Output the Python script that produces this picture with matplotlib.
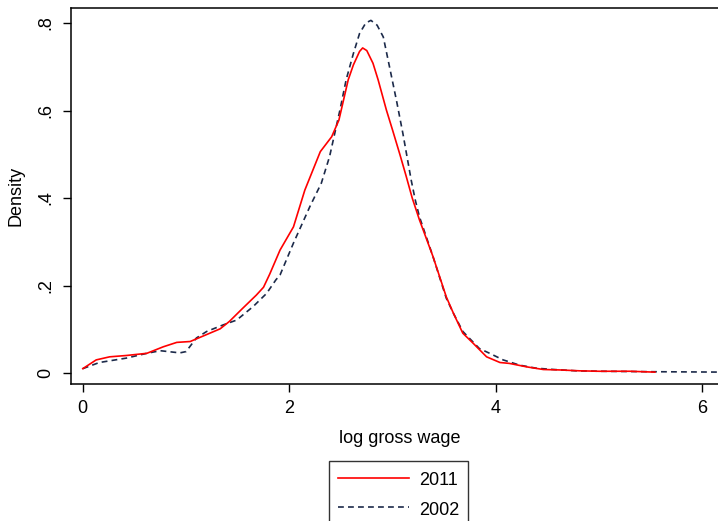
import matplotlib
matplotlib.use("Agg")
import matplotlib.pyplot as plt

plt.rcParams['font.family'] = ['Liberation Sans', 'DejaVu Sans']

# 2011 density (log gross wage)
x_2011 = [0.00, 0.13, 0.26, 0.42, 0.62, 0.78, 0.91, 1.04, 1.13, 1.33, 1.42, 1.54,
          1.68, 1.75, 1.81, 1.91, 2.04, 2.15, 2.30, 2.41, 2.48, 2.57, 2.62, 2.68,
          2.71, 2.75, 2.81, 2.86, 2.94, 3.00, 3.07, 3.13, 3.19, 3.26, 3.39, 3.52,
          3.59, 3.68, 3.78, 3.91, 4.04, 4.13, 4.30, 4.46, 4.62, 4.81, 5.00, 5.30, 5.54]
y_2011 = [0.010, 0.030, 0.037, 0.040, 0.045, 0.060, 0.070, 0.072, 0.081, 0.101, 0.118, 0.146,
          0.178, 0.196, 0.226, 0.281, 0.334, 0.418, 0.506, 0.540, 0.578, 0.670, 0.704, 0.735,
          0.743, 0.737, 0.708, 0.670, 0.601, 0.555, 0.500, 0.451, 0.400, 0.350, 0.267, 0.174,
          0.136, 0.091, 0.068, 0.037, 0.024, 0.022, 0.014, 0.008, 0.007, 0.005, 0.004, 0.004, 0.002]

# 2002 density (log gross wage)
x_2002 = [0.00, 0.16, 0.42, 0.62, 0.75, 0.94, 1.00, 1.10, 1.20, 1.36, 1.49, 1.65,
          1.78, 1.87, 1.91, 2.04, 2.20, 2.31, 2.39, 2.44, 2.49, 2.55, 2.62, 2.68,
          2.74, 2.79, 2.85, 2.91, 2.97, 3.04, 3.10, 3.18, 3.22, 3.26, 3.39, 3.52,
          3.59, 3.68, 3.84, 3.94, 4.07, 4.23, 4.39, 4.56, 4.78, 5.00, 5.50, 6.25]
y_2002 = [0.010, 0.024, 0.034, 0.045, 0.051, 0.046, 0.049, 0.080, 0.095, 0.110, 0.121, 0.152,
          0.182, 0.213, 0.224, 0.297, 0.381, 0.434, 0.495, 0.548, 0.601, 0.670, 0.730, 0.776,
          0.800, 0.806, 0.795, 0.768, 0.700, 0.620, 0.547, 0.441, 0.395, 0.357, 0.267, 0.171,
          0.136, 0.095, 0.056, 0.045, 0.030, 0.018, 0.011, 0.008, 0.005, 0.004, 0.003, 0.002]

x_ticks = [0, 2, 4, 6]
y_ticks = [0, 0.2, 0.4, 0.6, 0.8]
y_ticklabels = ["0", ".2", ".4", ".6", ".8"]

W, H = 718, 521
fig = plt.figure(figsize=(W / 100, H / 100), dpi=100)
left, bottom, top = 71 / W, 1 - 384.3 / H, 1 - 8.3 / H
right = 728 / W
ax = fig.add_axes([left, bottom, right - left, top - bottom])

ax.plot(x_2011, y_2011, color="#ff0000", lw=1.2, label="2011", zorder=3)
ax.plot(x_2002, y_2002, color="#1c2a4a", lw=1.2, dashes=(3.5, 2.5), label="2002", zorder=2)

ax.set_xlim(-0.1143, 6.248)
ax.set_ylim(-0.0258, 0.8336)
ax.set_xticks(x_ticks)
ax.set_xticklabels([str(t) for t in x_ticks])
ax.set_yticks(y_ticks)
ax.set_yticklabels(y_ticklabels, rotation=90, va="center")

for s in ax.spines.values():
    s.set_linewidth(1.1)
    s.set_color("black")

ax.tick_params(axis="both", direction="out", length=6, width=1.0, labelsize=13, colors="black")
ax.tick_params(axis="x", pad=5)
ax.tick_params(axis="y", pad=6)

ax.set_xlabel("log gross wage", fontsize=13, labelpad=10)
ax.set_ylabel("Density", fontsize=13, labelpad=9)

leg = fig.legend(loc="upper center", bbox_to_anchor=(398.7 / W, 1 - 460.7 / H),
                 fontsize=13, frameon=True, fancybox=False, edgecolor="black",
                 handlelength=3.9, handleheight=1.25, handletextpad=0.55, labelspacing=0.55,
                 borderpad=0.5, borderaxespad=0)
leg.get_frame().set_linewidth(1.0)

fig.savefig("out.png", dpi=100)
